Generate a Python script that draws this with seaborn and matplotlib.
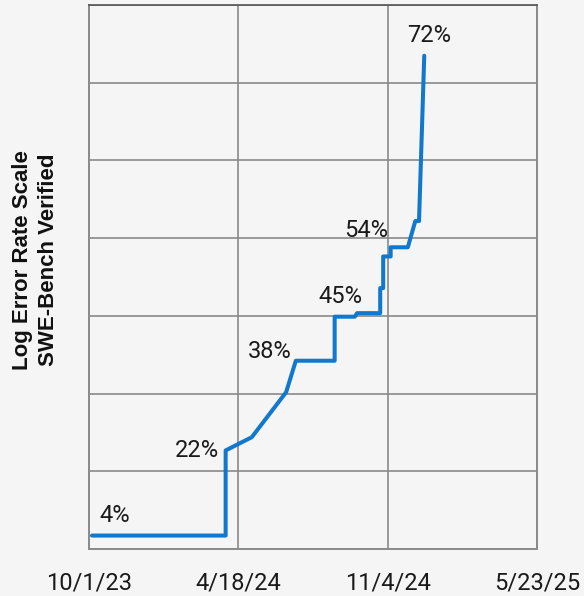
import numpy as np
import pandas as pd
import matplotlib
matplotlib.use("Agg")
import matplotlib.pyplot as plt
import seaborn as sns

# ---- data ----
dates = ["2023-10-05", "2024-04-01", "2024-04-01", "2024-05-06", "2024-06-21",
         "2024-07-04", "2024-08-25", "2024-08-25", "2024-09-21", "2024-09-24",
         "2024-10-25", "2024-10-25", "2024-10-29", "2024-10-29", "2024-11-08",
         "2024-11-08", "2024-12-01", "2024-12-11", "2024-12-16", "2024-12-23"]
scores = [3.4, 3.4, 22.4, 25.0, 33.2,
          38.4, 38.4, 45.0, 45.0, 45.5,
          45.5, 48.9, 48.9, 52.9, 52.9,
          54.0, 54.0, 57.0, 57.0, 71.9]

label_texts = ["4%", "22%", "38%", "45%", "54%", "72%"]
label_points = [0, 2, 5, 7, 15, 19]

tick_dates = ["2023-10-01", "2024-04-18", "2024-11-04", "2025-05-23"]
tick_labels = ["10/1/23", "4/18/24", "11/4/24", "5/23/25"]
grid_levels = [0.0, 0.2, 0.4, 0.6, 0.8, 1.0, 1.2, 1.4]

df = pd.DataFrame({"date": pd.to_datetime(dates), "score": scores})
df["logerr"] = -np.log(1 - df["score"] / 100.0)

# ---- styling ----
sns.set_theme(style="white")
plt.rcParams["font.family"] = ["Roboto", "DejaVu Sans"]
bg = "#f5f5f5"

fig = plt.figure(figsize=(5.84, 5.96), dpi=100, facecolor=bg)
ax = fig.add_axes([89 / 584, 1 - 549 / 596, 448 / 584, 544 / 596])
ax.set_facecolor(bg)

sns.lineplot(data=df, x="date", y="logerr", estimator=None, sort=False,
             color="#1178cc", linewidth=2.9, ax=ax, zorder=3)

tdates = pd.to_datetime(tick_dates)
ax.set_xlim(tdates[0], tdates[-1])
ax.set_ylim(grid_levels[0], grid_levels[-1])
ax.set_xticks(tdates)
ax.set_xticklabels(tick_labels, fontsize=17, color="#1a1a1a")
ax.set_yticks(grid_levels)
ax.set_yticklabels([])
ax.tick_params(axis="both", length=0)
ax.tick_params(axis="x", pad=16.5)
ax.grid(True, color="#8a8a8a", linewidth=1.2, zorder=0)
ax.set_axisbelow(True)
for s in ["left", "right", "bottom"]:
    ax.spines[s].set_color("#8a8a8a")
    ax.spines[s].set_linewidth(1.4)
ax.spines["top"].set_color("#555555")
ax.spines["top"].set_linewidth(1.2)
ax.set_xlabel("")
ax.set_ylabel("")

# annotations (offsets in pixels)
offsets = [(23, 20), (-29, 0), (-26, 9), (6, 20), (-24, 17), (5, 20)]
for txt, idx, off in zip(label_texts, label_points, offsets):
    ax.annotate(txt, xy=(df["date"].iloc[idx], df["logerr"].iloc[idx]),
                xytext=off, textcoords="offset pixels",
                ha="center", va="center", fontsize=17, color="#1a1a1a")

ax.text(-0.1194, 0.531, "Log Error Rate Scale\nSWE-Bench Verified",
        transform=ax.transAxes, rotation=90, ha="center", va="center",
        fontsize=16, fontweight="bold", linespacing=1.3,
        family=["Liberation Sans", "DejaVu Sans"], color="#111111")

fig.savefig("out.png", dpi=100, facecolor=bg)
